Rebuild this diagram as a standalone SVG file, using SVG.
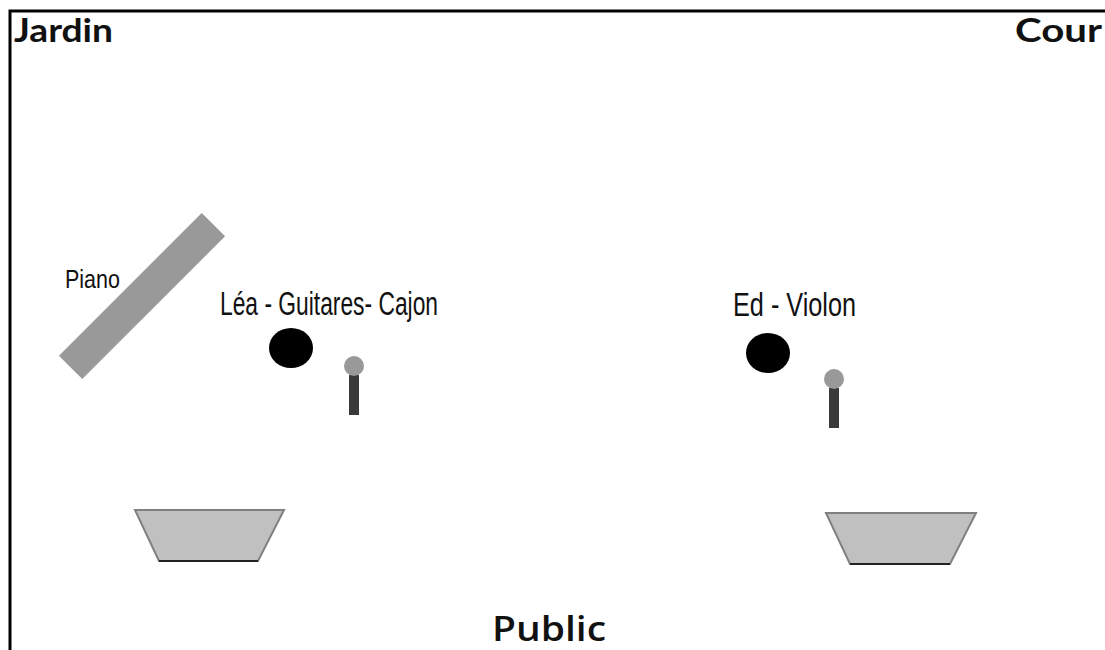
<svg xmlns="http://www.w3.org/2000/svg" width="1105" height="650" viewBox="0 0 1105 650">
<style>
.corner{font-family:Lato,"Open Sans","Liberation Sans",sans-serif;font-weight:bold;fill:#111}
.public{font-family:"Open Sans",Lato,"Liberation Sans",sans-serif;font-weight:600;fill:#111}
.label{font-family:"Liberation Sans",Arial,sans-serif;fill:#111}
.musician{fill:#000}
.mic-head{fill:#999}
.mic-stand{fill:#3a3a3a}
.monitor{fill:#c0c0c0;stroke:#808080;stroke-width:2}
.monitor-base{stroke:#222;stroke-width:2}
</style>
<rect width="1105" height="650" fill="#fff"/>
<g id="stage-border">
<path d="M10,650 L10,11 L1105,11" fill="none" stroke="#000" stroke-width="3"/>
</g>
<g id="jardin"><text class="corner" x="14" y="42" font-size="33" textLength="99" lengthAdjust="spacingAndGlyphs">Jardin</text></g>
<g id="cour"><text class="corner" x="1015" y="42" font-size="33" textLength="87" lengthAdjust="spacingAndGlyphs">Cour</text></g>
<g id="public"><text class="public" x="492" y="641" font-size="35" textLength="114" lengthAdjust="spacingAndGlyphs">Public</text></g>
<g id="piano">
<rect x="-101" y="-16.5" width="202" height="33" fill="#999" transform="translate(142,296) rotate(-45)"/>
<text class="label" x="65" y="288" font-size="26" textLength="55" lengthAdjust="spacingAndGlyphs">Piano</text>
</g>
<g id="lea">
<text class="label" x="220" y="315" font-size="34" textLength="218" lengthAdjust="spacingAndGlyphs">Léa - Guitares- Cajon</text>
<ellipse class="musician" cx="291" cy="348" rx="22" ry="20"/>
</g>
<g id="lea-mic">
<rect class="mic-stand" x="349" y="375" width="10" height="40"/>
<circle class="mic-head" cx="354" cy="366" r="10"/>
</g>
<g id="ed">
<text class="label" x="733" y="316" font-size="34" textLength="123" lengthAdjust="spacingAndGlyphs">Ed - Violon</text>
<ellipse class="musician" cx="768" cy="353" rx="22" ry="20"/>
</g>
<g id="ed-mic">
<rect class="mic-stand" x="829" y="388" width="10" height="40"/>
<circle class="mic-head" cx="834" cy="379" r="10"/>
</g>
<g id="monitor-left">
<polygon class="monitor" points="135,510 284,510 258,561 159,561"/>
<line class="monitor-base" x1="159" y1="561" x2="258" y2="561"/>
</g>
<g id="monitor-right">
<polygon class="monitor" points="826,513 976,513 950,564 850,564"/>
<line class="monitor-base" x1="850" y1="564" x2="950" y2="564"/>
</g>
<g id="connectors"></g>
</svg>
